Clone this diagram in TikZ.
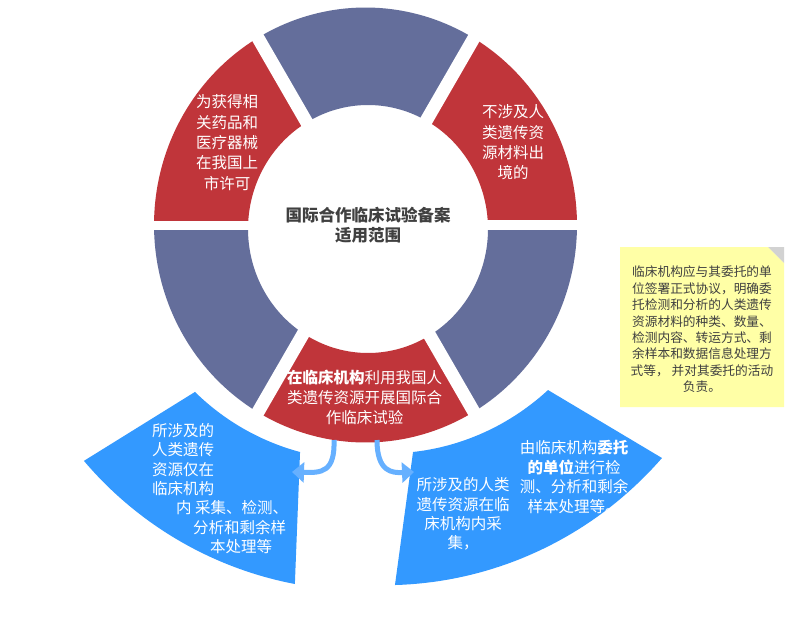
\documentclass[tikz,border=0pt]{standalone}
\usepackage{fontspec}
\setmainfont{Noto Sans CJK SC}
\usetikzlibrary{arrows.meta}
\definecolor{segred}{HTML}{C0353A}
\definecolor{seggray}{HTML}{646E9B}
\definecolor{blk}{HTML}{3399FF}
\definecolor{arrowblue}{HTML}{66B0FF}
\definecolor{notey}{HTML}{FFFFA6}
\definecolor{foldgray}{HTML}{D2D2D2}
\definecolor{txtgray}{HTML}{404040}
\begin{document}
\begin{tikzpicture}[x=1pt,y=-1pt,
  segtext/.style={text=white, align=center, inner sep=0pt, font=\fontsize{15.5}{20.3}\selectfont},
  bluetext/.style={text=white, align=center, inner sep=0pt, font=\fontsize{15.5}{19.4}\selectfont},
  centertext/.style={text=txtgray, align=center, inner sep=0pt, font=\fontsize{16.5}{20}\selectfont\bfseries},
  notetext/.style={text=txtgray, align=center, inner sep=0pt, font=\fontsize{12.7}{16.4}\selectfont},
  flow/.style={arrowblue, line width=5pt, -{Triangle[width=20pt,length=12pt]}}
]
\useasboundingbox (0,0) rectangle (810,616);
\fill[white] (0,0) rectangle (810,616);
% ring segments
\foreach \a/\b/\c in {-60/0/segred, 0/60/seggray, 60/120/segred, 120/180/seggray, 180/240/segred, 240/300/seggray} {
  \fill[\c] plot[domain=\a:\b, samples=40] ({365.5+211.5*cos(\x)},{225+217.5*sin(\x)})
     -- plot[domain=\b:\a, samples=40] ({368+120*cos(\x)},{229+124*sin(\x)}) -- cycle;
}
% gaps
\foreach \t/\w in {0/10, 60/13, 120/13, 180/9, 240/13, 300/13} {
  \draw[white, line width=\w pt] (366,225) -- ++(\t:230);
}
% lower blue blocks
\fill[blk] plot[domain=0:1, samples=40] ({366+(236.4+2.6*\x)*cos(106.2+29.5*\x)},{225+(236.4+2.6*\x)*sin(106.2+29.5*\x)})
   -- plot[domain=0:1, samples=40] ({366+(367.7-1.7*\x)*cos(140.1-38.9*\x)},{225+(367.7-1.7*\x)*sin(140.1-38.9*\x)}) -- cycle;
\fill[blk] plot[domain=0:1, samples=40] ({366+(245.7-13.9*\x)*cos(42.2+36.1*\x)},{225+(245.7-13.9*\x)*sin(42.2+36.1*\x)})
   -- plot[domain=0:1, samples=40] ({366+(361.2+15.5*\x)*cos(85.4-47.2*\x)},{225+(361.2+15.5*\x)*sin(85.4-47.2*\x)}) -- cycle;
% note
\fill[notey] (620,247) -- (768,247) -- (784,263) -- (784,407) -- (620,407) -- cycle;
\fill[foldgray] (768,247) -- (784,247) -- (784,263) -- cycle;
% arrows
\coordinate (la) at (334,440);
\coordinate (lb) at (292,472);
\coordinate (ra) at (377,440);
\coordinate (rb) at (414,472);
\draw[flow] (la) .. controls (335,472) and (322,473) .. (lb);
\draw[flow] (ra) .. controls (377,472) and (392,473) .. (rb);
% texts
\node[centertext] (tc) at (368,225) {国际合作临床试验备案\\适用范围};
\node[segtext] (tul) at (227,142.5) {为获得相\\关药品和\\医疗器械\\在我国上\\市许可};
\node[segtext] (tur) at (513,142.5) {不涉及人\\类遗传资\\源材料出\\境的};
\node[segtext] (tbot) at (364.5,397.5) {{\bfseries 在临床机构}利用我国人\\类遗传资源开展国际合\\作临床试验};
\node[bluetext, align=left, anchor=west] (tbl) at (152,488.5) {所涉及的\\人类遗传\\资源仅在\\临床机构\\\hspace*{24pt}内 采集、检测、\\\hspace*{41pt}分析和剩余样\\\hspace*{58pt}本处理等};
\node[bluetext] (tbr1) at (463,514) {所涉及的人类\\遗传资源在临\\床机构内采\\集，};
\node[bluetext] (tbr2) at (574,477) {由临床机构{\bfseries 委托}\\{\bfseries 的单位}进行检\\测、分析和剩余\\样本处理等。};
\node[notetext] (tn) at (702,329.5) {临床机构应与其委托的单\\位签署正式协议，明确委\\托检测和分析的人类遗传\\资源材料的种类、数量、\\检测内容、转运方式、剩\\余样本和数据信息处理方\\式等， 并对其委托的活动\\负责。};
\end{tikzpicture}
\end{document}
